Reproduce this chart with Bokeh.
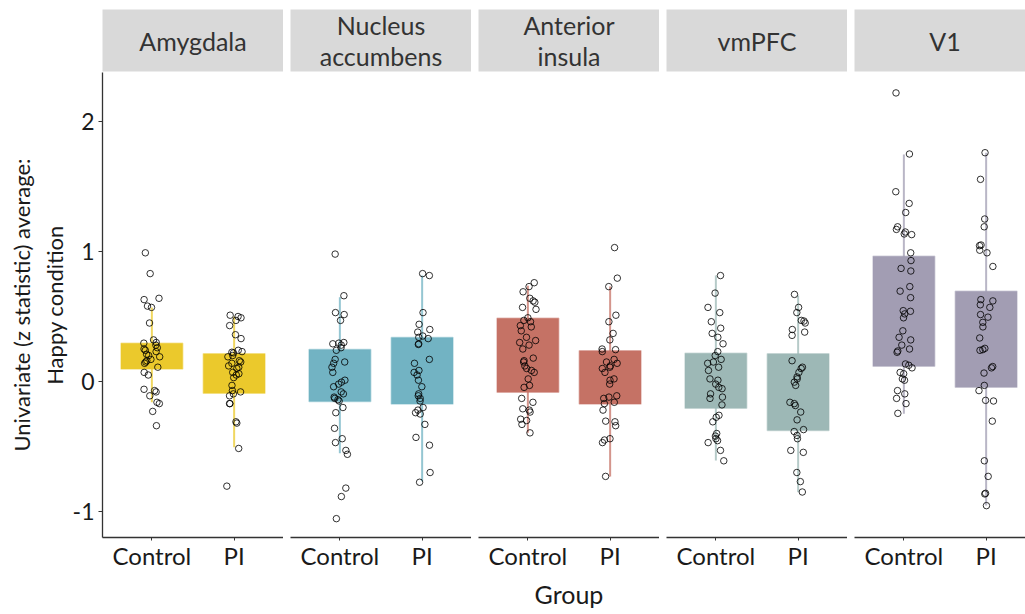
from bokeh.plotting import figure
from bokeh.layouts import row, column
from bokeh.models import Range1d, FixedTicker, ColumnDataSource
from bokeh.transform import jitter
from bokeh.core.properties import value
from bokeh.embed import file_html
from bokeh.resources import INLINE

# ---------------- data ----------------
regions = ["Amygdala", "Nucleus\naccumbens", "Anterior\ninsula", "vmPFC", "V1"]
groups = ["Control", "PI"]
y_ticks = [-1, 0, 1, 2]
y_tick_labels = ["-1", "0", "1", "2"]
colors = ["#EBC92C", "#72B3C3", "#C57265", "#9DB8B6", "#A29DB3"]

amygdala_control = [0.99, 0.83, 0.64, 0.63, 0.58, 0.57, 0.45, 0.32, 0.30, 0.295, 0.28, 0.26, 0.25,
                    0.24, 0.23, 0.21, 0.20, 0.19, 0.17, 0.16, 0.15, 0.14, 0.11, 0.07, 0.05, -0.06,
                    -0.07, -0.08, -0.11, -0.16, -0.17, -0.23, -0.34]
amygdala_pi = [0.51, 0.50, 0.49, 0.47, 0.43, 0.36, 0.33, 0.24, 0.23, 0.225, 0.22, 0.20, 0.19, 0.16,
               0.15, 0.14, 0.12, 0.11, 0.10, 0.07, 0.06, 0.05, 0.03, -0.03, -0.07, -0.08, -0.095,
               -0.11, -0.17, -0.17, -0.31, -0.32, -0.515, -0.805]
accumbens_control = [0.98, 0.66, 0.53, 0.515, 0.47, 0.30, 0.295, 0.29, 0.28, 0.26, 0.24, 0.17, 0.15,
                     0.14, 0.11, 0.07, 0.01, -0.005, -0.02, -0.04, -0.08, -0.095, -0.12, -0.13,
                     -0.14, -0.15, -0.20, -0.24, -0.36, -0.44, -0.47, -0.53, -0.56, -0.82, -0.885,
                     -1.055]
accumbens_pi = [0.83, 0.815, 0.53, 0.44, 0.40, 0.38, 0.35, 0.34, 0.33, 0.29, 0.285, 0.17, 0.14,
                0.085, 0.07, 0.05, 0.01, -0.04, -0.095, -0.11, -0.13, -0.15, -0.20, -0.22, -0.24,
                -0.25, -0.33, -0.43, -0.49, -0.70, -0.775]
insula_control = [0.76, 0.73, 0.69, 0.64, 0.62, 0.61, 0.57, 0.555, 0.49, 0.47, 0.46, 0.43, 0.42,
                  0.39, 0.34, 0.315, 0.30, 0.28, 0.25, 0.18, 0.16, 0.15, 0.12, 0.10, 0.085, 0.07,
                  0.02, -0.03, -0.045, -0.13, -0.16, -0.21, -0.22, -0.235, -0.29, -0.30, -0.33,
                  -0.395]
insula_pi = [1.03, 0.795, 0.73, 0.51, 0.46, 0.37, 0.32, 0.25, 0.245, 0.23, 0.17, 0.15, 0.14, 0.12,
             0.11, 0.10, 0.07, 0.02, 0.01, -0.02, -0.11, -0.12, -0.13, -0.16, -0.17, -0.22, -0.305,
             -0.31, -0.34, -0.44, -0.45, -0.47, -0.73]
vmpfc_control = [0.815, 0.68, 0.57, 0.53, 0.46, 0.41, 0.37, 0.34, 0.29, 0.23, 0.20, 0.17, 0.15,
                 0.14, 0.11, 0.085, 0.02, 0.01, -0.02, -0.045, -0.055, -0.095, -0.12, -0.13, -0.18,
                 -0.26, -0.275, -0.31, -0.40, -0.42, -0.44, -0.455, -0.47, -0.53, -0.61]
vmpfc_pi = [0.67, 0.57, 0.53, 0.47, 0.465, 0.45, 0.40, 0.38, 0.355, 0.16, 0.11, 0.10, 0.07, 0.035,
            0.02, -0.005, -0.03, -0.16, -0.17, -0.185, -0.235, -0.295, -0.37, -0.385, -0.415,
            -0.44, -0.53, -0.545, -0.70, -0.77, -0.85]
v1_control = [2.22, 1.75, 1.46, 1.37, 1.30, 1.19, 1.17, 1.15, 1.135, 1.13, 0.99, 0.93, 0.87, 0.85,
              0.73, 0.695, 0.645, 0.545, 0.54, 0.52, 0.49, 0.39, 0.34, 0.32, 0.28, 0.25, 0.235,
              0.225, 0.135, 0.125, 0.105, 0.07, 0.06, 0.02, 0.01, -0.07, -0.095, -0.13, -0.17,
              -0.245]
v1_pi = [1.76, 1.555, 1.25, 1.19, 1.05, 1.045, 1.01, 0.99, 0.885, 0.63, 0.62, 0.59, 0.57, 0.515,
         0.495, 0.455, 0.42, 0.335, 0.255, 0.245, 0.24, 0.115, 0.105, 0.065, -0.03, -0.07, -0.145,
         -0.15, -0.305, -0.61, -0.73, -0.86, -0.865, -0.955]

points = [
    (amygdala_control, amygdala_pi),
    (accumbens_control, accumbens_pi),
    (insula_control, insula_pi),
    (vmpfc_control, vmpfc_pi),
    (v1_control, v1_pi),
]

# box statistics per region: [Control, PI]
box_q1 = [[0.097, -0.09], [-0.154, -0.174], [-0.082, -0.174], [-0.205, -0.377], [0.118, -0.044]]
box_q3 = [[0.295, 0.213], [0.246, 0.338], [0.487, 0.236], [0.218, 0.213], [0.964, 0.695]]
whisker_low = [[-0.16, -0.505], [-0.551, -0.767], [-0.394, -0.731], [-0.608, -0.851], [-0.249, -0.954]]
whisker_high = [[0.57, 0.50], [0.649, 0.815], [0.737, 0.731], [0.815, 0.662], [1.746, 1.759]]

# ---------------- styling ----------------
FONT = "Lato"
TXT = "#1a1a1a"
AX = "#333333"
Y0, Y1 = -1.2, 2.377
FRAME_W = 181
UNIT_PX = FRAME_W / 2.2
LAST_W = 171

strips = []
panels = []
n = len(regions)
for i, name in enumerate(regions):
    first = i == 0
    last = i == n - 1
    fw = LAST_W if last else FRAME_W
    x_end = 0.4 + fw / UNIT_PX
    left = 102 if first else 7

    # strip
    s = figure(width=left + fw, height=72, x_range=Range1d(0.4, x_end), y_range=Range1d(0, 1),
               min_border_left=left, min_border_right=0, min_border_top=9, min_border_bottom=1,
               background_fill_color="#d9d9d9", border_fill_color="white", outline_line_color=None,
               x_axis_location=None, y_axis_location=None,
               output_backend="svg", toolbar_location=None)
    s.grid.visible = False
    s.text(x=[1.5], y=[0.5], text=[name], text_align="center", text_baseline="middle",
           text_font=value(FONT), text_font_size="25px", text_color="#333333",
           text_line_height=1.05)
    strips.append(s)

    # panel
    p = figure(width=left + fw, height=542, x_range=Range1d(0.4, x_end), y_range=Range1d(Y0, Y1),
               min_border_left=left, min_border_right=0, min_border_top=0, min_border_bottom=77,
               y_axis_location="left" if first else None,
               outline_line_color=None, background_fill_color="white",
               output_backend="svg", toolbar_location=None)
    p.grid.visible = False
    color = colors[i]

    bsrc = ColumnDataSource(dict(
        x=[1, 2],
        q1=box_q1[i], q3=box_q3[i],
        lo=whisker_low[i], hi=whisker_high[i],
    ))
    p.segment(x0="x", y0="lo", x1="x", y1="hi", source=bsrc,
              line_color=color, line_width=2, line_alpha=0.75)
    p.vbar(x="x", width=0.75, bottom="q1", top="q3", source=bsrc,
           fill_color=color, line_color=color, line_alpha=0.45, line_width=1.5)

    ctrl, pi = points[i]
    psrc = ColumnDataSource(dict(
        x=[1] * len(ctrl) + [2] * len(pi),
        y=list(ctrl) + list(pi),
    ))
    p.scatter(x=jitter("x", width=0.2), y="y", source=psrc, marker="circle", size=6.5,
              fill_color=None, line_color="black", line_alpha=0.8, line_width=1)

    xa = p.xaxis[0]
    xa.ticker = FixedTicker(ticks=[1, 2])
    xa.major_label_overrides = {1: groups[0], 2: groups[1]}
    xa.minor_tick_line_color = None
    xa.major_tick_out = 3
    xa.major_tick_in = 0
    xa.major_tick_line_color = AX
    xa.axis_line_color = AX
    xa.axis_line_width = 1.3
    xa.major_label_text_font = FONT
    xa.major_label_text_font_size = "24px"
    xa.major_label_text_color = TXT
    xa.major_label_standoff = 0
    if i == 2:
        xa.axis_label = "Group"
        xa.axis_label_text_font = FONT
        xa.axis_label_text_font_size = "25px"
        xa.axis_label_text_font_style = "normal"
        xa.axis_label_text_color = TXT
        xa.axis_label_standoff = 6

    if first:
        ya = p.yaxis[0]
        ya.ticker = FixedTicker(ticks=y_ticks)
        ya.major_label_overrides = dict(zip(y_ticks, y_tick_labels))
        ya.minor_tick_line_color = None
        ya.major_tick_out = 4
        ya.major_tick_in = 0
        ya.major_tick_line_color = AX
        ya.axis_line_color = AX
        ya.axis_line_width = 1.3
        ya.major_label_text_font = FONT
        ya.major_label_text_font_size = "23px"
        ya.major_label_text_color = TXT
        ya.major_label_standoff = 4
        ya.axis_label = "Univariate (z statistic) average:\nHappy condition"
        ya.axis_label_text_font = FONT
        ya.axis_label_text_font_size = "22px"
        ya.axis_label_text_font_style = "normal"
        ya.axis_label_text_color = TXT
        ya.axis_label_standoff = 2
    panels.append(p)

layout = column(row(*strips, spacing=0), row(*panels, spacing=0), spacing=0)

with open("out.html", "w") as f:
    f.write(file_html(layout, INLINE))
